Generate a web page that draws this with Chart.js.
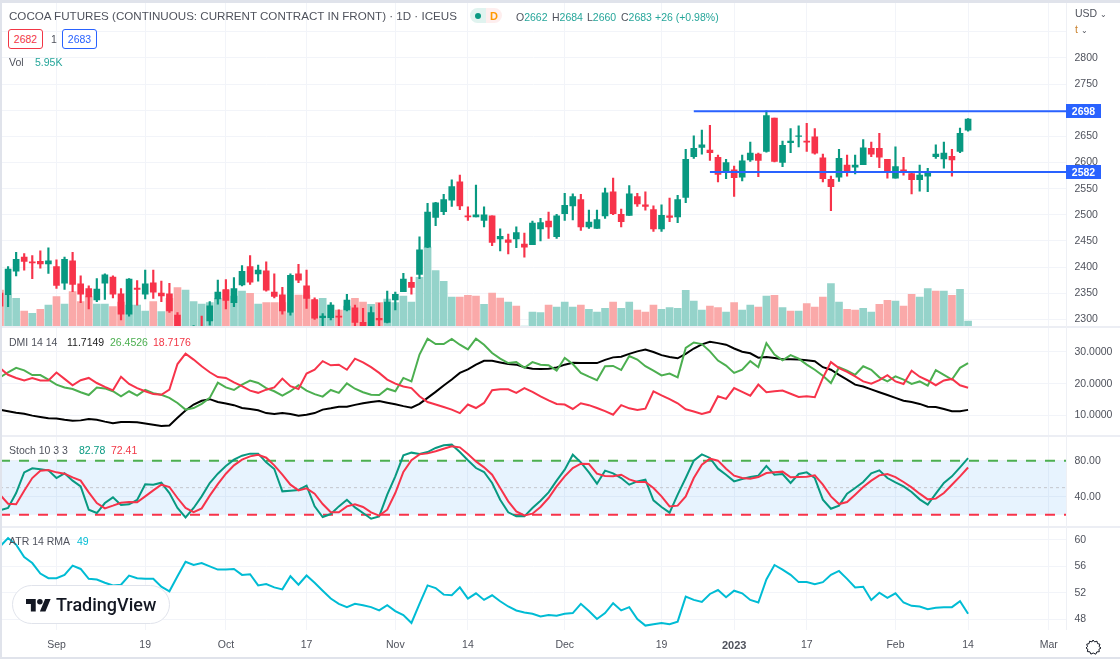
<!DOCTYPE html>
<html>
<head>
<meta charset="utf-8">
<script src="https://cdn.jsdelivr.net/npm/chart.js@4"></script>
<style>
  html, body { margin: 0; padding: 0; background: #fff; }
  #wrap { position: relative; width: 1120px; height: 659px; overflow: hidden; font-family: "Liberation Sans", sans-serif; color: #4f525c; }
  canvas { position: absolute; left: 0; }
  .t { position: absolute; white-space: nowrap; font-size: 10.5px; line-height: 14px; }
  .sep { position: absolute; left: 0; width: 1120px; height: 2px; background: #eceef4; }
  .frame { position: absolute; background: #e0e3eb; }
  .box { position: absolute; box-sizing: border-box; height: 20px; width: 35px; border: 1px solid; border-radius: 3px; text-align: center; font-size: 10.5px; line-height: 18px; background: #fff; }
  .tag { position: absolute; left: 1066px; width: 35px; height: 14px; background: #2962ff; color: #fff; text-align: center; font-size: 10.5px; font-weight: bold; line-height: 14px; }
  #logo { position: absolute; left: 12px; top: 585px; width: 158px; height: 39px; box-sizing: border-box; background: #fff; border: 1px solid #e0e3eb; border-radius: 20px; }
  .g { color: #26a69a; }
</style>
</head>
<body>
<div id="wrap">
  <canvas id="mainChart" width="1120" height="324" style="top:3px"></canvas>
  <canvas id="dmiChart" width="1120" height="107" style="top:328px"></canvas>
  <canvas id="stochChart" width="1120" height="90" style="top:436px"></canvas>
  <canvas id="atrChart" width="1120" height="132" style="top:527px"></canvas>

  <div class="sep" style="top:326px"></div>
  <div class="sep" style="top:435px"></div>
  <div class="sep" style="top:526px"></div>
  <div style="position:absolute;left:1066px;top:3px;width:1px;height:627px;background:#eef0f5"></div>

  <div class="t" style="left:9px;top:9px;font-size:11.6px">COCOA FUTURES (CONTINUOUS: CURRENT CONTRACT IN FRONT) · 1D · ICEUS</div>
  <div style="position:absolute;left:470px;top:8px;width:16px;height:15px;background:#e0f3ef;border-radius:8px 0 0 8px"></div>
  <div style="position:absolute;left:486px;top:8px;width:16px;height:15px;background:#feeeee;border-radius:0 8px 8px 0"></div>
  <div style="position:absolute;left:475px;top:13px;width:6px;height:6px;background:#089981;border-radius:3px"></div>
  <div class="t" style="left:490px;top:9px;color:#ff9800;font-weight:bold;font-size:11px">D</div>
  <div class="t" style="left:516px;top:10px">O<span class="g">2662</span></div>
  <div class="t" style="left:552px;top:10px">H<span class="g">2684</span></div>
  <div class="t" style="left:587px;top:10px">L<span class="g">2660</span></div>
  <div class="t" style="left:621px;top:10px">C<span class="g">2683</span></div>
  <div class="t g" style="left:655px;top:10px">+26 (+0.98%)</div>
  <div class="box" style="left:8px;top:29px;color:#f23645;border-color:#f23645">2682</div>
  <div class="t" style="left:51px;top:32px">1</div>
  <div class="box" style="left:62px;top:29px;color:#2962ff;border-color:#2962ff">2683</div>
  <div class="t" style="left:9px;top:55px">Vol</div>
  <div class="t g" style="left:35px;top:55px">5.95K</div>

  <div class="t" style="left:9px;top:335px">DMI 14 14</div>
  <div class="t" style="left:67px;top:335px;color:#222">11.7149</div>
  <div class="t" style="left:110px;top:335px;color:#4caf50">26.4526</div>
  <div class="t" style="left:153px;top:335px;color:#f23645">18.7176</div>
  <div class="t" style="left:9px;top:443px">Stoch 10 3 3</div>
  <div class="t" style="left:79px;top:443px;color:#089981">82.78</div>
  <div class="t" style="left:111px;top:443px;color:#f23645">72.41</div>
  <div class="t" style="left:9px;top:534px">ATR 14 RMA</div>
  <div class="t" style="left:77px;top:534px;color:#00bcd4">49</div>

  <div class="t" style="left:1075px;top:6px">USD <span style="font-size:8px">&#8964;</span></div>
  <div class="t" style="left:1075px;top:22px"><span style="color:#c9802c">t</span> <span style="font-size:8px">&#8964;</span></div>
  <div id="tagHigh" class="tag"></div>
  <div id="tagLow" class="tag"></div>

  <div id="logo">
    <svg width="25" height="20" viewBox="0 0 36 28" style="position:absolute;left:13px;top:10px"><path fill="#131722" d="M14 22H7V11H0V4h14v18zM28 22h-8l7.5-18h8L28 22z"/><circle fill="#131722" cx="20" cy="8" r="4"/></svg>
    <div class="t" style="left:43px;top:9px;font:500 18px/20px Roboto,sans-serif;color:#131722">TradingView</div>
  </div>

  <svg width="18" height="18" viewBox="0 0 18 18" style="position:absolute;left:1084px;top:638px" fill="none" stroke="#131722" stroke-width="1"><path d="M9 2l1.6 1.9 2.4-.7.5 2.4 2.4.6-.8 2.4L17 10l-2.1 1.3.4 2.4-2.5.2-1 2.3L9.2 15l-2.3 1.1-1-2.3-2.5-.2.4-2.4L2 10l1.5-1.4-.8-2.4 2.4-.6.5-2.4 2.4.7z" stroke-linejoin="round"/></svg>

  <div class="frame" style="left:0;top:0;width:1120px;height:3px"></div>
  <div class="frame" style="left:0;top:0;width:2px;height:659px"></div>
  <div class="frame" style="left:0;top:657px;width:1120px;height:2px"></div>
</div>

<script>
var opens = [2350,2347,2392,2419,2410,2411,2406,2401,2369,2412,2368,2359,2337,2369,2381,2349,2310,2360,2348,2370,2350,2349,2308,2262,2272,2280,2297,2339,2357,2332,2366,2401,2387,2393,2352,2347,2313,2387,2364,2338,2303,2303,2306,2318,2322,2294,2283,2302,2294,2337,2353,2371,2386,2438,2495,2506,2528,2563,2498,2496,2489,2498,2454,2452,2454,2444,2443,2473,2488,2458,2502,2517,2529,2477,2474,2498,2544,2501,2499,2535,2519,2510,2473,2498,2496,2533,2611,2629,2624,2610,2584,2586,2572,2605,2616,2621,2685,2600,2638,2650,2641,2649,2609,2568,2572,2595,2591,2596,2627,2627,2606,2570,2586,2579,2567,2574,2611,2607,2612,2621,2662];
var highs = [2360,2401,2428,2426,2422,2431,2437,2414,2419,2428,2383,2364,2378,2387,2383,2359,2378,2374,2394,2394,2373,2369,2313,2276,2288,2306,2334,2375,2376,2380,2403,2422,2404,2410,2387,2361,2387,2405,2394,2341,2311,2332,2318,2348,2327,2321,2324,2331,2354,2352,2388,2381,2458,2522,2524,2539,2567,2576,2515,2557,2515,2498,2473,2463,2477,2465,2488,2493,2505,2501,2541,2540,2539,2509,2509,2551,2570,2511,2556,2541,2544,2517,2519,2532,2537,2625,2651,2662,2671,2614,2606,2593,2614,2639,2618,2699,2685,2641,2665,2670,2675,2665,2616,2574,2625,2614,2614,2644,2639,2656,2606,2630,2610,2581,2595,2589,2634,2639,2625,2666,2684];
var lows = [2318,2324,2383,2394,2378,2398,2388,2359,2357,2353,2332,2320,2334,2338,2341,2299,2306,2327,2339,2340,2334,2313,2273,2255,2262,2262,2289,2329,2320,2324,2364,2367,2373,2354,2341,2310,2308,2370,2321,2300,2286,2299,2285,2316,2286,2280,2280,2283,2293,2318,2353,2348,2378,2437,2479,2500,2516,2510,2489,2496,2477,2441,2431,2425,2437,2419,2443,2450,2455,2455,2489,2490,2470,2474,2474,2493,2500,2477,2499,2516,2509,2468,2468,2487,2485,2523,2608,2616,2604,2563,2569,2535,2565,2602,2573,2620,2601,2592,2619,2630,2621,2616,2563,2508,2564,2574,2578,2596,2611,2590,2570,2570,2576,2540,2545,2544,2608,2589,2574,2619,2660];
var closes = [2325,2396,2415,2411,2408,2406,2412,2365,2415,2367,2348,2343,2358,2385,2348,2310,2377,2357,2368,2352,2345,2316,2280,2270,2282,2270,2326,2352,2336,2359,2392,2371,2394,2356,2344,2316,2384,2375,2340,2302,2306,2327,2304,2337,2294,2283,2313,2299,2333,2348,2377,2361,2433,2505,2523,2529,2554,2517,2496,2500,2500,2447,2459,2447,2466,2438,2484,2485,2477,2498,2518,2535,2477,2486,2491,2542,2502,2487,2540,2521,2516,2473,2499,2495,2529,2606,2627,2634,2619,2577,2600,2571,2603,2618,2604,2690,2602,2633,2641,2651,2639,2618,2569,2554,2608,2583,2595,2628,2616,2610,2581,2592,2581,2567,2576,2581,2616,2618,2605,2656,2683];
// volume in thousands, volUp = 1 green / 0 red
var volume = [37,32,28.7,16,13.7,17.7,22,30.3,23,35.3,25.3,30.3,23,23,20.3,25,22,22,16,25.3,15.3,28.7,39.3,37,25.3,23,24.3,28.7,37,31,36,33.7,23,24.3,24.3,24.3,14,32,32,27,28.7,22,17,21,28.7,25,22.7,24.3,28,24.3,31,25,49.7,80,56.3,45.7,30,30,31.7,31,22.7,34,29,25,21,1,15,14.3,22,20,25,20,22,17.7,15,18.7,25,18.7,25,17,15,22,17.7,19.3,18.7,36.7,26,17,21,19.3,15,24.3,17,22,20,31,31.7,19.3,16,16,23.3,20,30,43.3,25,17.7,17,18.7,15,22.7,26.7,26,21,32.7,30,38.3,36,36,31.7,37.7,5.95];
var volUp = [0,1,1,0,1,0,1,0,1,0,0,0,1,1,0,0,1,1,1,0,1,0,0,1,1,1,1,1,0,1,1,0,1,0,0,0,1,0,0,0,1,1,0,1,0,0,1,0,1,1,1,1,1,1,1,1,1,0,0,0,1,0,0,1,0,1,1,1,0,1,1,1,0,1,1,1,0,1,1,0,0,0,1,1,1,1,1,1,0,0,1,0,1,1,0,1,0,1,0,1,0,0,0,1,1,0,0,1,1,0,0,1,0,0,1,1,0,1,0,1,1];

var adx = [11.8,11.3,10.8,10.5,9.9,9.5,9.1,9.0,8.6,8.3,8.4,8.8,8.6,8.0,7.5,7.9,7.9,7.8,7.4,7.0,6.6,6.8,9.2,11.5,13.4,14.6,15.1,14.2,13.7,13.2,12.3,12.0,11.6,10.7,10.4,10.7,10.4,9.9,10.2,10.7,11.8,12.2,12.7,12.7,13.3,13.8,14.2,14.5,14.0,13.5,12.9,12.4,13.6,15.5,17.4,19.4,21.3,23.4,24.5,26.0,27.2,27.2,26.7,26.2,26.0,25.2,24.7,24.6,24.7,25.1,26.0,26.6,26.5,26.5,26.5,27.5,28.3,28.5,29.4,30.2,30.8,30.0,29.0,28.4,28.0,29.4,31.1,32.4,33.2,32.8,32.3,31.1,30.1,29.6,28.2,28.4,28.1,27.7,27.7,27.6,27.4,27.1,25.2,24.4,22.8,21.3,19.7,19.1,18.2,17.3,16.4,15.5,14.6,14.2,13.6,12.7,12.6,12.0,11.3,11.3,11.7149];
var diPlus = [22.0,23.6,25.0,24.2,22.7,22.7,21.3,19.7,18.8,18.3,17.3,16.4,18.8,18.5,17.6,16.0,17.6,16.2,18.0,17.0,16.5,15.5,13.9,11.8,12.3,13.6,15.5,20.3,18.8,18.0,19.7,21.0,20.2,18.6,17.6,16.2,17.6,19.5,17.8,16.7,15.9,18.0,17.1,20.1,18.4,17.3,16.5,16.4,18.4,17.6,21.8,20.7,29.2,34.2,32.5,32.5,34.1,32.3,30.8,34.2,32.3,29.7,27.9,26.5,26.8,25.0,26.8,26.0,25.8,24.1,28.1,26.2,23.4,22.2,21.1,25.5,25.6,24.3,28.7,27.6,25.5,24.1,22.6,23.2,22.0,31.3,33.0,32.5,30.2,27.3,25.7,23.4,24.4,27.1,25.2,32.8,29.2,27.4,29.0,27.9,26.0,24.4,22.5,20.2,25.2,24.1,22.8,25.5,24.4,22.0,20.7,22.3,21.3,19.9,20.7,19.4,24.3,22.8,21.3,25.0,26.4526];
var diMinus = [24.9,22.8,21.8,21.0,21.8,21.0,21.0,23.5,21.5,19.5,21.1,21.8,20.2,19.0,17.9,22.2,19.9,18.6,17.6,16.7,16.5,18.1,26.2,29.5,27.6,25.5,23.6,22.1,21.8,20.4,19.2,17.8,17.1,18.1,18.8,21.6,19.2,18.3,23.2,24.4,27.1,25.8,26.0,24.4,27.9,26.7,25.2,23.4,21.3,20.0,19.1,18.6,16.0,14.2,13.4,12.6,11.8,10.7,13.4,12.3,13.9,17.9,18.2,18.2,17.1,18.6,17.4,16.0,14.7,13.6,13.4,12.0,13.8,13.2,12.3,11.3,10.2,13.2,12.2,11.7,12.1,17.6,16.3,15.1,13.8,11.9,11.2,10.4,11.1,16.0,15.2,18.6,17.4,16.2,19.7,17.3,17.6,17.8,16.8,15.8,16.0,15.7,21.8,26.8,24.9,23.7,22.3,20.7,20.0,21.1,22.7,20.7,19.9,24.1,22.2,21.0,19.5,21.0,21.5,19.5,18.7176];

var stochK = [24.8,27.4,44.0,67.0,71.5,70.4,69.2,60.7,65.9,57.8,51.5,25.5,21.8,32.9,39.2,30.7,31.5,36.3,53.7,53.3,55.5,44.0,27.4,17.0,27.4,40.3,55.2,65.5,74.1,81.1,85.5,87.8,87.8,78.1,70.7,45.9,46.6,47.4,52.2,29.2,17.4,20.7,29.2,36.6,28.1,21.8,15.5,18.1,42.2,62.6,85.9,88.9,87.4,89.6,94.1,97.0,97.8,89.6,80.4,71.8,67.4,55.2,36.6,22.6,18.1,18.1,27.4,35.5,44.8,57.8,70.0,86.6,78.1,67.0,54.4,68.9,65.9,60.7,53.3,57.0,58.9,35.9,28.5,22.2,42.2,60.7,80.0,87.0,83.0,71.1,64.4,57.0,59.6,61.8,63.3,74.1,64.4,65.2,55.2,65.2,67.0,60.7,36.6,26.6,30.0,43.3,49.6,56.3,65.9,69.2,60.7,55.9,51.5,45.2,37.0,31.1,43.3,55.2,62.6,72.6,82.78];
var stochD = [42.2,32.2,31.5,46.6,60.7,68.9,69.6,67.0,65.5,61.5,57.8,44.8,32.9,27.0,30.0,33.3,34.0,33.7,40.3,47.0,53.3,50.7,38.5,27.4,22.9,27.0,41.1,54.0,65.5,74.8,81.1,84.8,86.6,83.3,74.8,64.4,53.3,47.0,49.2,43.3,31.8,22.6,22.6,29.2,31.5,28.5,22.6,18.9,25.5,44.0,67.4,80.4,87.0,88.1,90.4,93.3,95.9,94.8,87.4,79.2,72.6,64.4,49.6,34.8,23.7,19.2,21.1,28.5,38.5,51.5,62.6,71.8,76.6,76.3,65.5,62.9,62.6,64.4,59.2,56.3,56.3,49.6,40.3,29.2,30.0,40.3,60.7,75.5,82.2,80.0,71.1,63.3,60.7,60.0,61.8,66.3,67.0,67.8,61.5,61.8,62.2,63.7,53.3,40.3,31.8,34.0,42.2,50.7,57.8,63.7,65.2,61.8,56.3,50.3,43.3,37.0,37.8,44.0,53.3,62.6,72.41];
var atr = [59.0,60.3,59.3,57.4,56.5,54.9,54.2,54.2,54.7,56.1,55.6,54.1,54.0,53.5,53.1,53.2,54.6,54.2,54.1,54.1,52.9,52.2,54.5,56.7,56.2,56.5,56.0,55.5,55.5,55.6,54.7,54.8,53.1,53.3,52.8,52.5,54.5,53.2,54.6,53.5,52.3,51.1,50.3,49.8,50.3,50.1,49.8,49.3,50.1,49.2,48.6,47.4,50.3,53.1,52.7,51.7,51.6,52.8,51.1,51.9,50.9,51.6,50.7,49.9,49.3,49.0,48.8,48.4,48.6,48.5,48.8,48.9,50.3,49.2,48.0,48.9,50.4,49.3,49.8,48.0,47.0,47.2,47.4,47.2,47.6,51.4,50.9,50.6,51.8,52.4,51.3,52.3,51.9,50.9,50.5,54.0,56.2,55.5,54.7,53.6,53.6,53.3,53.6,54.7,55.3,54.1,52.8,52.9,50.9,52.0,51.2,51.9,50.5,50.0,49.9,49.5,49.7,49.8,49.8,50.7,48.8];

// bars are numbered from the left edge, the last one is 14 Feb
var timeTicks = [7,18,28,38,49,58,70,82,91,100,111,120,130];
var timeLabels = ['Sep','19','Oct','17','Nov','14','Dec','19','2023','17','Feb','14','Mar'];
var priceTicks = [2300,2350,2400,2450,2500,2550,2600,2650,2700,2750,2800,2850];
var dmiTicks = [10,20,30];
var stochTicks = [40,80];
var atrTicks = [48,52,56,60];

var resistance = 2698, resistanceFrom = 86;
var support = 2582, supportFrom = 88;
var lastBar = 132.2;

var GREEN = '#089981', RED = '#f7334a';
var gridColor = '#f2f4f9';
var axisFont = { family: 'Liberation Sans', size: 10.5 };

function pts(arr) {
  return arr.map(function(v, i) { return { x: i, y: v }; });
}
function flat(from, value) {
  return [{ x: from, y: value }, { x: lastBar, y: value }];
}
function lineSet(arr, color, order) {
  return { type: 'line', data: pts(arr), borderColor: color, borderWidth: 2, pointRadius: 0, tension: 0, order: order };
}

function xScale(showLabels) {
  return {
    type: 'linear', min: 0, max: lastBar, offset: false,
    afterBuildTicks: function(s) { s.ticks = timeTicks.map(function(v) { return { value: v }; }); },
    afterFit: function(s) { s.height = showLabels ? 29 : 0; s.paddingLeft = 0; s.paddingRight = 0; },
    grid: { color: gridColor, drawTicks: false, offset: false },
    border: { display: false },
    ticks: {
      display: showLabels, autoSkip: false, maxRotation: 0, padding: 9, color: '#4f525c',
      font: function(c) { return c.tick && c.tick.value == 91 ? { family: 'Liberation Sans', size: 11, weight: 'bold' } : axisFont; },
      callback: function(v) { return timeLabels[timeTicks.indexOf(v)]; }
    }
  };
}
function yScale(min, max, tickVals, fmt) {
  return {
    position: 'right', min: min, max: max,
    afterBuildTicks: function(s) { s.ticks = tickVals.map(function(v) { return { value: v }; }); },
    // tick padding also pads the plot top and bottom, the panes must fill their canvas
    afterFit: function(s) { s.width = 53.5; s.paddingTop = 0; s.paddingBottom = 0; },
    grid: { color: gridColor, drawTicks: false },
    border: { display: false },
    ticks: { autoSkip: false, padding: 8, color: '#4f525c', font: axisFont, callback: fmt }
  };
}
function commonOptions(scales) {
  return {
    responsive: false, animation: false, events: [],
    layout: { padding: 0, autoPadding: false },
    plugins: { legend: { display: false }, tooltip: { enabled: false } },
    scales: scales
  };
}

var upColors = closes.map(function(c, i) { return c >= opens[i] ? GREEN : RED; });

var mainChart = new Chart(document.getElementById('mainChart'), {
  type: 'bar',
  data: {
    datasets: [
      { type: 'line', data: flat(resistanceFrom, resistance), borderColor: '#2962ff', borderWidth: 2, pointRadius: 0, order: 0 },
      { type: 'line', data: flat(supportFrom, support), borderColor: '#2962ff', borderWidth: 2, pointRadius: 0, order: 0 },
      { data: opens.map(function(o, i) { return { x: i, y: [o, closes[i]] }; }), backgroundColor: upColors, barThickness: 6, grouped: false, order: 1 },
      { data: lows.map(function(l, i) { return { x: i, y: [l, highs[i]] }; }), backgroundColor: upColors, barThickness: 1.5, grouped: false, order: 2 },
      { data: pts(volume), yAxisID: 'yVol', backgroundColor: volUp.map(function(u) { return u ? '#95d3ca' : '#faa9a9'; }), barThickness: 7, grouped: false, order: 3 }
    ]
  },
  options: commonOptions({
    x: xScale(false),
    y: yScale(2285.3, 2905.2, priceTicks, function(v) { return v == 2850 ? '' : v; }),
    yVol: { display: false, min: 0, max: 324 }
  })
});

new Chart(document.getElementById('dmiChart'), {
  type: 'line',
  data: { datasets: [lineSet(adx, '#000000', 2), lineSet(diPlus, '#4caf50', 1), lineSet(diMinus, RED, 0)] },
  options: commonOptions({
    x: xScale(false),
    y: yScale(3.78, 37.58, dmiTicks, function(v) { return v.toFixed(4); })
  })
});

new Chart(document.getElementById('stochChart'), {
  type: 'line',
  data: {
    datasets: [
      { data: flat(0, 80), borderColor: '#4caf50', borderWidth: 2, borderDash: [10, 9], pointRadius: 0, fill: { value: 20 }, backgroundColor: 'rgba(33,150,243,0.11)', order: 4 },
      { data: flat(0, 20), borderColor: RED, borderWidth: 2, borderDash: [10, 9], pointRadius: 0, order: 3 },
      { data: flat(0, 50), borderColor: '#c4c6cd', borderWidth: 1, borderDash: [3, 3], pointRadius: 0, order: 2 },
      lineSet(stochK, GREEN, 1),
      lineSet(stochD, RED, 0)
    ]
  },
  options: commonOptions({
    x: xScale(false),
    y: yScale(7.4, 107.4, stochTicks, function(v) { return v.toFixed(2); })
  })
});

new Chart(document.getElementById('atrChart'), {
  type: 'line',
  data: { datasets: [lineSet(atr, '#00bcd4', 0)] },
  options: commonOptions({
    x: xScale(true),
    y: yScale(46.33, 61.97, atrTicks, function(v) { return v; })
  })
});

// blue price tags sit on the axis at the level of the two lines
function placeTag(id, value) {
  var el = document.getElementById(id);
  el.textContent = value;
  el.style.top = (3 + mainChart.scales.y.getPixelForValue(value) - 7) + 'px';
}
placeTag('tagHigh', resistance);
placeTag('tagLow', support);
</script>
</body>
</html>
